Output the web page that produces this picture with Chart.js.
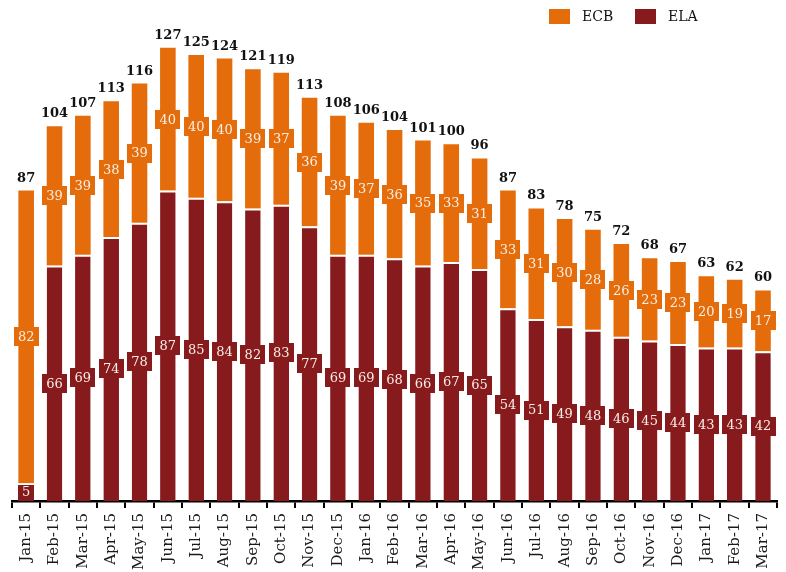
<!DOCTYPE html>
<html>
<head>
<meta charset="utf-8">
<script src="https://cdn.jsdelivr.net/npm/chart.js@4.4.1/dist/chart.umd.min.js"></script>
<style>
  html, body { margin: 0; padding: 0; background: #fff; }
  #wrap { width: 786px; height: 572px; }
</style>
</head>
<body>
<div id="wrap"><canvas id="funding"></canvas></div>
<script>
const months = ["Jan-15", "Feb-15", "Mar-15", "Apr-15", "May-15", "Jun-15", "Jul-15", "Aug-15", "Sep-15",
  "Oct-15", "Nov-15", "Dec-15", "Jan-16", "Feb-16", "Mar-16", "Apr-16", "May-16", "Jun-16", "Jul-16",
  "Aug-16", "Sep-16", "Oct-16", "Nov-16", "Dec-16", "Jan-17", "Feb-17", "Mar-17"];
const elaValues = [5, 66, 69, 74, 78, 87, 85, 84, 82, 83, 77, 69, 69, 68, 66, 67, 65, 54, 51, 49, 48, 46, 45, 44, 43, 43, 42];
const ecbValues = [82, 39, 39, 38, 39, 40, 40, 40, 39, 37, 36, 39, 37, 36, 35, 33, 31, 33, 31, 30, 28, 26, 23, 23, 20, 19, 17];
const totals = [87, 104, 107, 113, 116, 127, 125, 124, 121, 119, 113, 108, 106, 104, 101, 100, 96, 87, 83, 78, 75, 72, 68, 67, 63, 62, 60];

const ECB_COLOR = "#e46c0a";
const ELA_COLOR = "#861a1c";
const SERIF = '"DejaVu Serif", "Liberation Serif", serif';

// draws the boxed values, the totals and the legend
const barLabels = {
  id: "barLabels",
  afterDatasetsDraw(chart) {
    const ctx = chart.ctx;
    ctx.save();
    ctx.textAlign = "center";
    ctx.textBaseline = "middle";
    ctx.font = "13px " + SERIF;
    chart.data.datasets.forEach((ds, i) => {
      const meta = chart.getDatasetMeta(i);
      meta.data.forEach((bar, j) => {
        const txt = String(ds.data[j]);
        const w = Math.round(ctx.measureText(txt).width + 8);
        const top = Math.min(bar.y, bar.base);
        const bottom = Math.max(bar.y, bar.base);
        const cy = (top + bottom) / 2;
        const y0 = Math.round(Math.max(cy - 9.5, top + (i === 0 ? 2 : 0)));
        const y1 = Math.round(Math.min(cy + 9.5, bottom));
        ctx.fillStyle = ds.backgroundColor;
        ctx.fillRect(Math.round(bar.x - w / 2), y0, w, y1 - y0);
        ctx.fillStyle = "#fbefe6";
        ctx.fillText(txt, bar.x, cy + 1);
      });
    });

    // totals above the stacks
    const topMeta = chart.getDatasetMeta(1);
    ctx.font = "bold 13px " + SERIF;
    ctx.fillStyle = "#111";
    ctx.textBaseline = "alphabetic";
    topMeta.data.forEach((bar, j) => {
      ctx.fillText(String(totals[j]), bar.x, bar.y - 9);
    });

    // legend, ECB first
    ctx.font = "14px " + SERIF;
    ctx.textAlign = "left";
    ctx.textBaseline = "middle";
    let x = 549;
    [1, 0].forEach((i) => {
      const ds = chart.data.datasets[i];
      ctx.fillStyle = ds.backgroundColor;
      ctx.fillRect(x, 9, 21, 15);
      ctx.fillStyle = "#111";
      ctx.fillText(ds.label, x + 33, 17);
      x += 86;
    });
    ctx.restore();
  },
};

const ctx = document.getElementById("funding").getContext("2d");
new Chart(ctx, {
  type: "bar",
  data: {
    labels: months,
    datasets: [
      {
        label: "ELA",
        data: elaValues,
        backgroundColor: ELA_COLOR,
        borderColor: "#ffffff",
        borderWidth: { top: 2, left: 0, right: 0, bottom: 0 },
        borderSkipped: false,
        barPercentage: 0.55,
        categoryPercentage: 1,
      },
      {
        label: "ECB",
        data: ecbValues,
        backgroundColor: ECB_COLOR,
        borderWidth: 0,
        barPercentage: 0.55,
        categoryPercentage: 1,
      },
    ],
  },
  options: {
    responsive: true,
    maintainAspectRatio: false,
    animation: false,
    layout: { padding: { left: 12, right: 0, top: 30, bottom: 0 } },
    scales: {
      x: {
        stacked: true,
        afterFit(scale) {
          scale.height = 71;
        },
        grid: {
          display: true,
          offset: true,
          drawOnChartArea: false,
          drawTicks: true,
          tickLength: 7,
          color: "#000",
          lineWidth: 2,
        },
        border: { display: true, color: "#000", width: 2.5 },
        ticks: {
          minRotation: 90,
          maxRotation: 90,
          padding: 5,
          color: "#1a1a1a",
          font: { family: SERIF, size: 15 },
        },
      },
      y: {
        stacked: true,
        display: false,
        min: 0,
        max: 132,
      },
    },
    plugins: {
      legend: { display: false },
      tooltip: { enabled: false },
    },
  },
  plugins: [barLabels],
});
</script>
</body>
</html>
